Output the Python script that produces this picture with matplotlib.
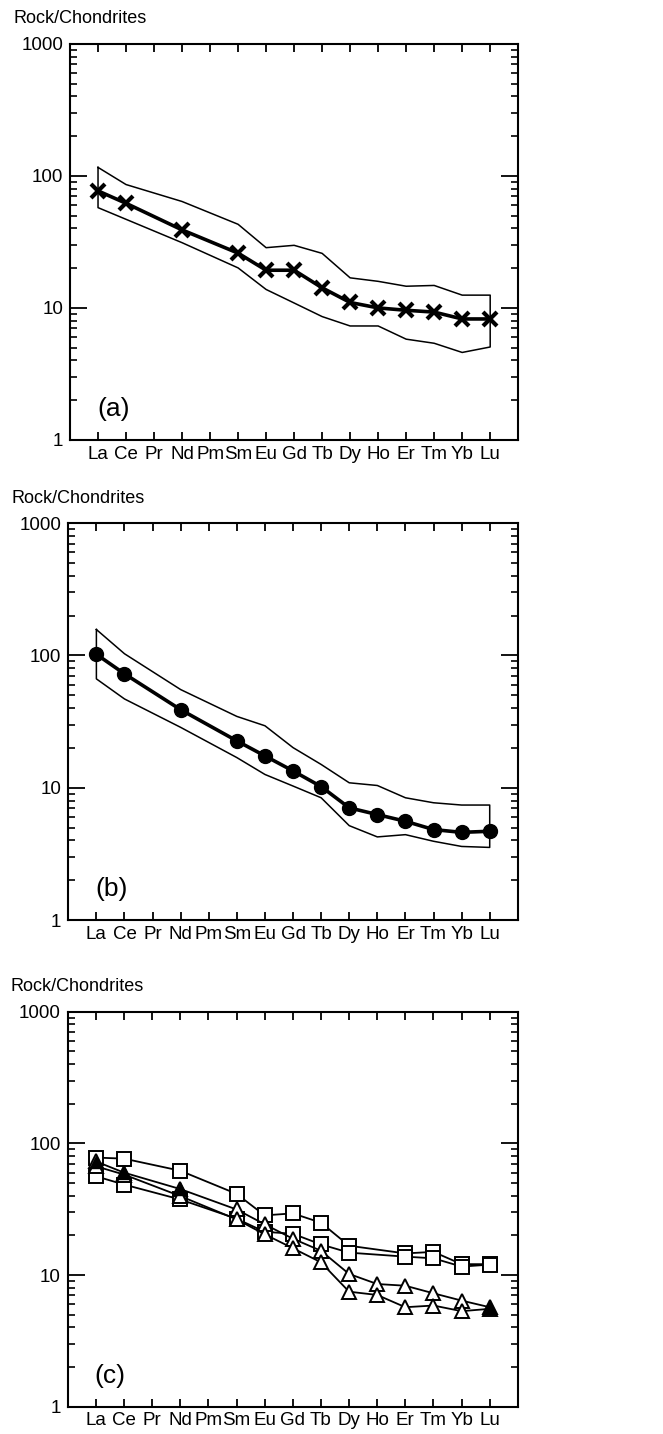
import numpy as np
from matplotlib import pyplot as plt
from matplotlib.ticker import LogLocator, FixedLocator, NullFormatter

plt.rcParams['font.family'] = ['Liberation Sans', 'DejaVu Sans']

nan = np.nan
elements = ['La', 'Ce', 'Pr', 'Nd', 'Pm', 'Sm', 'Eu', 'Gd', 'Tb', 'Dy',
            'Ho', 'Er', 'Tm', 'Yb', 'Lu']
y_ticks = [1, 10, 100, 1000]
y_labels = ['1', '10', '100', '1000']

# (a) mean pattern and range envelope
a_mean = [77, 62, nan, 39, nan, 26, 19.3, 19.3, 14.2, 11.0, 10.0, 9.6, 9.3, 8.25, 8.25]
a_upper = [116, 86, nan, 64, nan, 43, 28.6, 29.8, 25.9, 16.9, 15.9, 14.6, 14.8, 12.5, 12.5]
a_lower = [57.5, 46.9, nan, 31.2, nan, 20.1, 13.8, 10.9, 8.6, 7.3, 7.3, 5.8, 5.4, 4.6, 5.06]

# (b) mean pattern and range envelope
b_mean = [102, 72.6, nan, 38.9, nan, 22.6, 17.4, 13.4, 10.2, 7.05, 6.27, 5.58, 4.83, 4.6, 4.69]
b_upper = [157, 103, nan, 55.2, nan, 34.6, 29.4, 20.1, 15.0, 10.9, 10.4, 8.4, 7.7, 7.4, 7.4]
b_lower = [66.5, 46.9, nan, 28.6, nan, 16.9, 12.6, 10.3, 8.4, 5.17, 4.25, 4.42, 3.94, 3.6, 3.54]

# (c) individual samples
c_sq1 = [78, 76.6, nan, 62, nan, 41.4, 28.4, 29.4, 25, 16.7, nan, 14.6, 15, 12.1, 12.1]
c_sq2 = [56.3, 48.7, nan, 37.5, nan, 26.8, 21.3, 20.6, 17.1, 14.8, nan, 13.8, 13.4, 11.6, 12.0]
c_tr1 = [73, 60, nan, 45, nan, 31.5, 24.3, 18.9, 15.3, 10.2, 8.55, 8.3, 7.27, 6.4, 5.7]
c_tr2 = [67, 58, nan, 39.8, nan, 26.5, 20.4, 16.0, 12.5, 7.48, 7.06, 5.7, 5.87, 5.32, 5.54]
c_filled = [72, 60, nan, 45, nan, nan, nan, nan, nan, nan, nan, nan, nan, nan, 5.6]

x = np.arange(len(elements))


def valid(vals):
    """ Return x and y with the missing elements dropped """
    v = np.array(vals, dtype=float)
    m = ~np.isnan(v)
    return x[m], v[m]


def setup_axes(ax, letter):
    """ Log REE axes in the style of the original figure """
    ax.set_yscale('log')
    ax.set_ylim(1, 1000)
    ax.set_xlim(-1, 15)
    for s in ax.spines.values():
        s.set_linewidth(1.5)
    ax.xaxis.set_major_locator(FixedLocator(x))
    ax.set_xticklabels(elements, fontsize=13.5)
    ax.yaxis.set_major_locator(FixedLocator(y_ticks))
    ax.set_yticklabels(y_labels, fontsize=13.5)
    ax.yaxis.set_minor_locator(LogLocator(base=10, subs=np.arange(2, 10)))
    ax.yaxis.set_minor_formatter(NullFormatter())
    ax.tick_params(axis='x', which='major', direction='in', top=True,
                   length=6, width=1.3, pad=4)
    ax.tick_params(axis='y', which='major', direction='in', right=True,
                   length=12, width=1.3, pad=5)
    ax.tick_params(axis='y', which='minor', direction='in', right=True,
                   length=5, width=1.2)
    ax.text(-0.127, 1.063, 'Rock/Chondrites', transform=ax.transAxes,
            fontsize=13, ha='left', va='center')
    ax.text(0.06, 0.078, '(%s)' % letter, transform=ax.transAxes,
            fontsize=19, ha='left', va='center')


def envelope(ax, upper, lower):
    """ Closed outline of the range of values """
    xu, yu = valid(upper)
    xl, yl = valid(lower)
    xs = np.concatenate([xu, xl[::-1], xu[:1]])
    ys = np.concatenate([yu, yl[::-1], yu[:1]])
    ax.plot(xs, ys, color='black', lw=1.1)


fig = plt.figure(figsize=(6.63, 14.34), dpi=100)
ax_a = fig.add_axes([0.1056, 0.6932, 0.676, 0.2762])
ax_b = fig.add_axes([0.1030, 0.3584, 0.678, 0.2768])
ax_c = fig.add_axes([0.1021, 0.0190, 0.679, 0.2755])

# panel (a)
envelope(ax_a, a_upper, a_lower)
xa, ya = valid(a_mean)
ax_a.plot(xa, ya, color='black', lw=2.6, marker='x', ms=10, mew=3)
setup_axes(ax_a, 'a')

# panel (b)
envelope(ax_b, b_upper, b_lower)
xb, yb = valid(b_mean)
ax_b.plot(xb, yb, color='black', lw=2.6, marker='o', ms=10)
setup_axes(ax_b, 'b')

# panel (c)
for vals, mk in [(c_sq1, 's'), (c_sq2, 's'), (c_tr1, '^'), (c_tr2, '^')]:
    xc, yc = valid(vals)
    ax_c.plot(xc, yc, color='black', lw=1.3, marker=mk, ms=9.5,
              mfc='white', mec='black', mew=1.4)
xf, yf = valid(c_filled)
ax_c.plot(xf, yf, ls='none', marker='^', ms=9, color='black')
setup_axes(ax_c, 'c')

fig.savefig('out.png', dpi=100)
